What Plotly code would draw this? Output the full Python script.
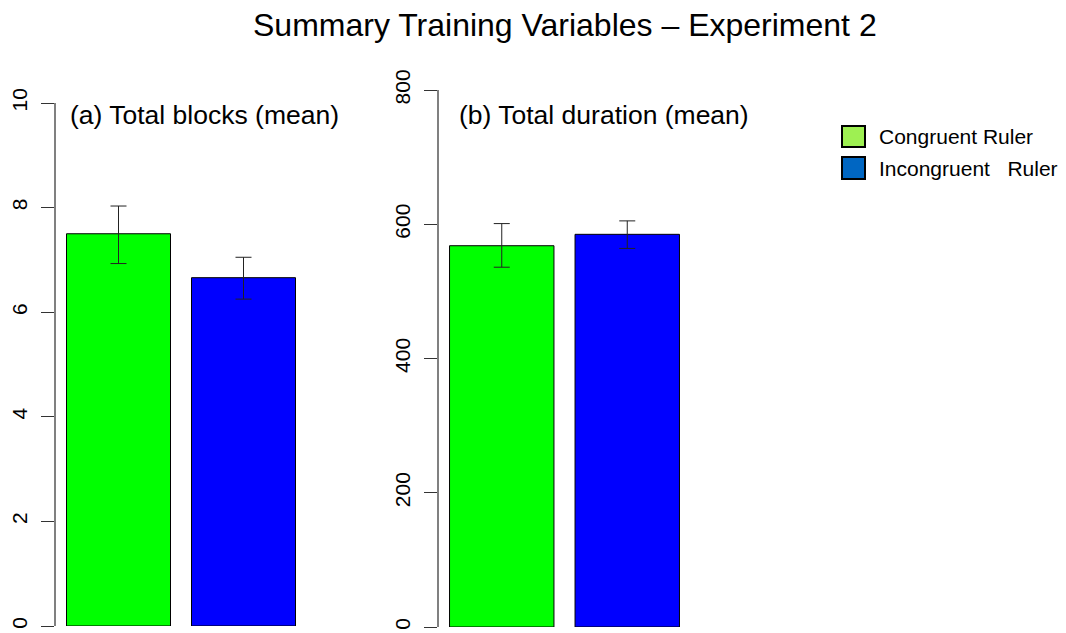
import plotly.graph_objects as go

# ---- data ----
categories = ["Congruent Ruler", "Incongruent Ruler"]
bar_colors = ["#00FF00", "#0000FF"]

blocks_mean = [7.50, 6.66]
blocks_low = [6.93, 6.25]
blocks_high = [8.03, 7.05]

duration_mean = [568, 585]
duration_low = [536, 564]
duration_high = [601, 605]

blocks_ticks = [0, 2, 4, 6, 8, 10]
duration_ticks = [0, 200, 400, 600, 800]

title_text = "Summary Training Variables \u2013 Experiment 2"
panel_labels = ["(a) Total blocks (mean)", "(b) Total duration (mean)"]
legend_labels = ["Congruent Ruler", "Incongruent\u00a0\u00a0 Ruler"]
legend_colors = ["#9ef052", "#0066c2"]

W, H = 1066, 633
FONT = "Arial, Liberation Sans, sans-serif"


def px_x(p):
    return p / W


def px_y(p):
    return 1 - p / H


fig = go.Figure()

fig.add_trace(go.Bar(
    x=categories, y=blocks_mean, xaxis="x", yaxis="y",
    marker=dict(color=bar_colors, line=dict(color="black", width=1)),
    error_y=dict(type="data", symmetric=False,
                 array=[h - m for h, m in zip(blocks_high, blocks_mean)],
                 arrayminus=[m - l for l, m in zip(blocks_low, blocks_mean)],
                 color="#222", thickness=1, width=8),
    showlegend=False, hoverinfo="skip",
))
fig.add_trace(go.Bar(
    x=categories, y=duration_mean, xaxis="x2", yaxis="y2",
    marker=dict(color=bar_colors, line=dict(color="black", width=1)),
    error_y=dict(type="data", symmetric=False,
                 array=[h - m for h, m in zip(duration_high, duration_mean)],
                 arrayminus=[m - l for l, m in zip(duration_low, duration_mean)],
                 color="#222", thickness=1, width=8),
    showlegend=False, hoverinfo="skip",
))

yaxis_common = dict(
    showline=True, linecolor="#808080", linewidth=2,
    ticks="outside", ticklen=13, tickwidth=1, tickcolor="#333",
    tickangle=-90, showgrid=False, zeroline=False, automargin=False,
    tickfont=dict(family=FONT, size=21, color="black"),
    ticklabelstandoff=6,
)

annotations = [
    dict(text=title_text, x=px_x(565), y=px_y(25), xref="paper", yref="paper",
         xanchor="center", yanchor="middle", showarrow=False,
         font=dict(family=FONT, size=32, color="black")),
    dict(text=panel_labels[0], x=px_x(68), y=px_y(115), xref="paper", yref="paper",
         xanchor="left", yanchor="middle", showarrow=False,
         font=dict(family=FONT, size=26.5, color="black")),
    dict(text=panel_labels[1], x=px_x(457), y=px_y(115), xref="paper", yref="paper",
         xanchor="left", yanchor="middle", showarrow=False,
         font=dict(family=FONT, size=26.5, color="black")),
]

shapes = []
legend_rows = [(126, 147), (157, 179)]
for i, (lab, col) in enumerate(zip(legend_labels, legend_colors)):
    y0, y1 = legend_rows[i]
    shapes.append(dict(type="rect", xref="paper", yref="paper",
                       x0=px_x(842), x1=px_x(865), y0=px_y(y1), y1=px_y(y0),
                       fillcolor=col, line=dict(color="black", width=2)))
    annotations.append(dict(text=lab, x=px_x(877), y=px_y((y0 + y1) / 2),
                            xref="paper", yref="paper", xanchor="left",
                            yanchor="middle", showarrow=False,
                            font=dict(family=FONT, size=21, color="black")))

fig.update_layout(
    width=W, height=H,
    margin=dict(l=0, r=0, t=0, b=0, pad=0, autoexpand=False),
    paper_bgcolor="white", plot_bgcolor="white",
    bargap=0.168,
    xaxis=dict(domain=[px_x(56), px_x(306)], range=[-0.5, 1.5], visible=False,
               type="category", anchor="y", automargin=False),
    xaxis2=dict(domain=[px_x(439), px_x(690)], range=[-0.5, 1.5], visible=False,
                type="category", anchor="y2", automargin=False),
    yaxis=dict(domain=[7 / H, 530 / H], range=[0, 10], tickvals=blocks_ticks,
               anchor="x", **yaxis_common),
    yaxis2=dict(domain=[6 / H, 543 / H], range=[0, 800], tickvals=duration_ticks,
                anchor="x2", **yaxis_common),
    annotations=annotations,
    shapes=shapes,
    showlegend=False,
)

fig.write_html("out.html")
